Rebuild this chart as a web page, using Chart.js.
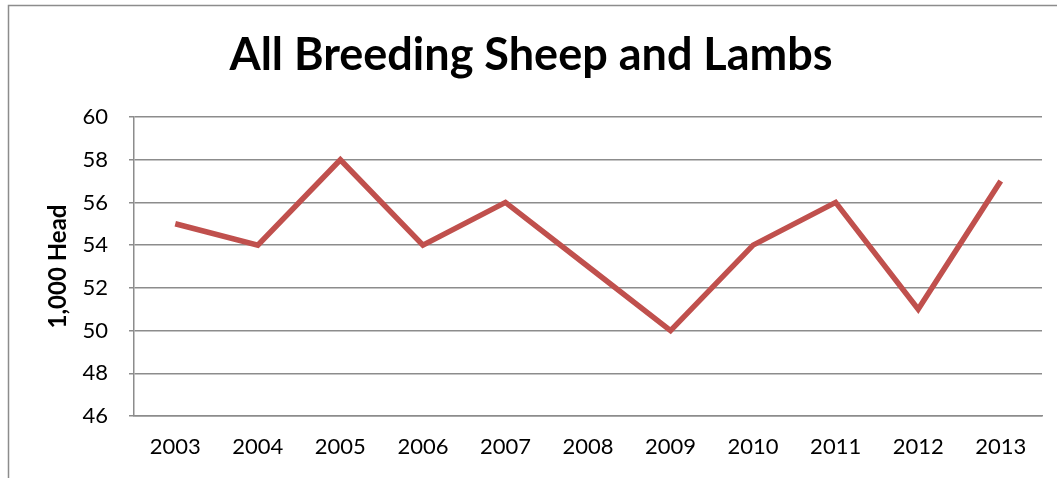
<!DOCTYPE html>
<html>
<head>
<meta charset="utf-8">
<script src="https://cdn.jsdelivr.net/npm/chart.js@4"></script>
<style>
  html, body { margin: 0; padding: 0; background: #fff; }
  #wrap { width: 1057px; height: 478px; }
</style>
</head>
<body>
<div id="wrap"><canvas id="chart" width="1057" height="478"></canvas></div>
<script>
const years = ['2003', '2004', '2005', '2006', '2007', '2008', '2009', '2010', '2011', '2012', '2013'];
const headCounts = [55, 54, 58, 54, 56, 53, 50, 54, 56, 51, 57];
const yMin = 46;
const yMax = 60;
const yStep = 2;

const FONT = 'Lato, "Open Sans", sans-serif';
const LINE_COLOR = '#C0504D';
const GRID_COLOR = '#8c8c8c';

// outer frame like the spreadsheet chart box (left and top edges only visible)
const frame = {
  id: 'frame',
  beforeDraw(chart) {
    const ctx = chart.ctx;
    ctx.save();
    ctx.strokeStyle = '#8c8c8c';
    ctx.lineWidth = 1.5;
    ctx.beginPath();
    ctx.moveTo(8.5, 478);
    ctx.lineTo(8.5, 5.5);
    ctx.lineTo(1057, 5.5);
    ctx.stroke();
    ctx.restore();
  }
};

new Chart(document.getElementById('chart').getContext('2d'), {
  type: 'line',
  data: {
    labels: years,
    datasets: [{
      data: headCounts,
      borderColor: LINE_COLOR,
      backgroundColor: LINE_COLOR,
      borderWidth: 5.5,
      pointRadius: 0,
      tension: 0,
      borderJoinStyle: 'miter',
    }],
  },
  options: {
    responsive: false,
    animation: false,
    layout: {
      padding: { left: 20, right: 15, top: 0, bottom: 0 },
    },
    plugins: {
      legend: { display: false },
      tooltip: { enabled: false },
      title: {
        display: true,
        text: 'All Breeding Sheep and Lambs',
        color: '#000',
        font: { family: FONT, size: 45, weight: 'bold', lineHeight: 1.2 },
        padding: { top: 28, bottom: 35 },
      },
    },
    scales: {
      x: {
        offset: true,
        grid: { display: false, offset: true },
        border: { display: true, color: GRID_COLOR, width: 1.5 },
        ticks: {
          color: '#000',
          font: { family: FONT, size: 22 },
          padding: 10,
          maxRotation: 0,
        },
        afterFit(scale) { scale.height = 62; },
      },
      y: {
        min: yMin,
        max: yMax,
        grid: { color: GRID_COLOR, lineWidth: 1.5, drawTicks: true, tickLength: 5 },
        border: { display: true, color: GRID_COLOR, width: 1.5 },
        ticks: {
          stepSize: yStep,
          color: '#000',
          font: { family: FONT, size: 22 },
          padding: 21,
        },
        title: {
          display: true,
          text: '1,000 Head',
          color: '#000',
          font: { family: FONT, size: 24, weight: 'bold', lineHeight: 1.2 },
          padding: { top: 24, bottom: 0 },
        },
        afterFit(scale) { scale.width = 114; },
      },
    },
  },
  plugins: [frame],
});
</script>
</body>
</html>
